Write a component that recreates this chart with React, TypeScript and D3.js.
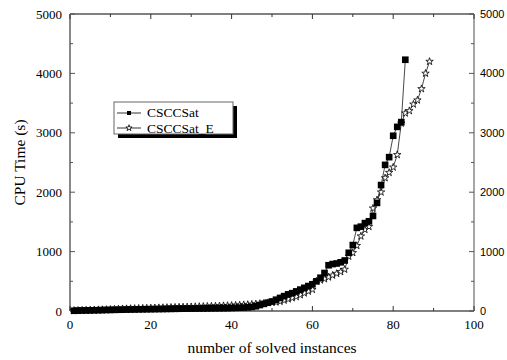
import React from "react";
import * as d3 from "d3";

const cscc: number[] = [
  4, 6, 8, 9, 10, 12, 13, 15, 17, 18,
  20, 21, 22, 24, 25, 26, 28, 29, 30, 31,
  32, 33, 34, 35, 36, 37, 38, 39, 40, 41,
  42, 43, 44, 45, 46, 47, 48, 49, 50, 52,
  54, 56, 58, 62, 68, 80, 100, 120, 140, 160,
  190, 220, 250, 280, 300, 330, 360, 390, 420, 450,
  500, 560, 640, 770, 790, 800, 820, 850, 980, 1110,
  1400, 1420, 1480, 1510, 1600, 1820, 2120, 2460, 2590, 2950,
  3100, 3180, 4230,
];

const csccE: number[] = [
  8, 10, 12, 14, 16, 18, 20, 22, 24, 26,
  30, 33, 36, 38, 40, 42, 44, 46, 48, 50,
  52, 54, 56, 58, 60, 62, 64, 66, 68, 70,
  72, 74, 76, 78, 80, 82, 85, 88, 90, 93,
  96, 100, 104, 108, 112, 118, 124, 130, 138, 145,
  150, 160, 180, 200, 220, 240, 270, 300, 330, 360,
  500, 520, 540, 570, 600, 630, 660, 700, 920, 980,
  1100, 1260, 1370, 1420, 1730, 1870, 2000, 2240, 2330, 2420,
  2630, 3160, 3330, 3370, 3480, 3550, 3740, 4000, 4200,
];

const xTicks = [0, 20, 40, 60, 80, 100];
const xMinor = [10, 30, 50, 70, 90];
const yTicks = [0, 1000, 2000, 3000, 4000, 5000];
const yMinor = [500, 1500, 2500, 3500, 4500];
const seriesNames = ["CSCCSat", "CSCCSat_E"];

const W = 507, H = 360;
const L = 70, R = 474, T = 14, B = 311;

export default function App() {
  const x = d3.scaleLinear().domain([0, 100]).range([L, R]);
  const y = d3.scaleLinear().domain([0, 5000]).range([B, T]);
  const line = d3.line<number>().x((_, i) => x(i + 1)).y((d) => y(d));
  const sq = d3.symbol().type(d3.symbolSquare).size(44)()!;
  const star = d3.symbol().type(d3.symbolStar).size(17)()!;
  const sqS = d3.symbol().type(d3.symbolSquare).size(16)()!;
  const starS = d3.symbol().type(d3.symbolStar).size(12)()!;
  const serif = "'Liberation Serif', 'Times New Roman', serif";
  const sans = "'Liberation Sans', Arial, sans-serif";
  return (
    <svg width={W} height={H} style={{ position: "absolute", left: 0, top: 0, background: "#fff" }}>
      {/* frame */}
      <line x1={L} x2={R} y1={T} y2={T} stroke="#000" strokeWidth={1} />
      <line x1={L} x2={R} y1={B} y2={B} stroke="#000" strokeWidth={1.2} />
      <line x1={L} x2={L} y1={T} y2={B} stroke="#888" strokeWidth={2} />
      <line x1={R} x2={R} y1={T} y2={B} stroke="#888" strokeWidth={1.5} />
      {/* x ticks */}
      {xTicks.map((t) => (
        <g key={"xt" + t}>
          <line x1={x(t)} x2={x(t)} y1={B} y2={B - 5} stroke="#333" />
          <line x1={x(t)} x2={x(t)} y1={T} y2={T + 5} stroke="#333" />
          <text x={x(t)} y={329} textAnchor="middle" fontFamily={serif} fontSize={13} fill="#000">{t}</text>
        </g>
      ))}
      {xMinor.map((t) => (
        <g key={"xm" + t}>
          <line x1={x(t)} x2={x(t)} y1={B} y2={B - 3} stroke="#333" />
          <line x1={x(t)} x2={x(t)} y1={T} y2={T + 3} stroke="#333" />
        </g>
      ))}
      {/* y ticks */}
      {yTicks.map((t) => (
        <g key={"yt" + t}>
          <line x1={L} x2={L + 5} y1={y(t)} y2={y(t)} stroke="#555" />
          <line x1={R} x2={R - 5} y1={y(t)} y2={y(t)} stroke="#555" />
          <text x={62} y={y(t) + 4.5} textAnchor="end" fontFamily={serif} fontSize={13} fill="#000">{t}</text>
          <text x={480} y={y(t) + 4} textAnchor="start" fontFamily={sans} fontSize={11} fill="#000">{t}</text>
        </g>
      ))}
      {yMinor.map((t) => (
        <g key={"ym" + t}>
          <line x1={L} x2={L + 3} y1={y(t)} y2={y(t)} stroke="#555" />
          <line x1={R} x2={R - 3} y1={y(t)} y2={y(t)} stroke="#555" />
        </g>
      ))}
      {/* axis titles */}
      <text x={(L + R) / 2} y={353} textAnchor="middle" fontFamily={serif} fontSize={15.5} fill="#000">number of solved instances</text>
      <text transform={`translate(25,${(T + B) / 2}) rotate(-90)`} textAnchor="middle" fontFamily={serif} fontSize={15.5} fill="#000">CPU Time (s)</text>
      {/* series lines */}
      <path d={line(csccE) || ""} fill="none" stroke="#333" strokeWidth={0.9} />
      <path d={line(cscc) || ""} fill="none" stroke="#333" strokeWidth={0.9} />
      {csccE.map((v, i) => (
        <path key={"s" + i} d={star} transform={`translate(${x(i + 1)},${y(v)})`} fill="#fff" stroke="#000" strokeWidth={0.8} />
      ))}
      {cscc.map((v, i) => (
        <path key={"q" + i} d={sq} transform={`translate(${x(i + 1)},${y(v)})`} fill="#000" />
      ))}
      {/* legend */}
      <rect x={118} y={106} width={119} height={32} fill="#000" />
      <rect x={114} y={102} width={119} height={32} fill="#fff" stroke="#666" strokeWidth={1} />
      <line x1={117} x2={141} y1={113} y2={113} stroke="#000" strokeWidth={0.8} />
      <path d={sqS} transform="translate(129,113)" fill="#000" />
      <text x={147} y={117} fontFamily={serif} fontSize={13.5} fill="#000">{seriesNames[0]}</text>
      <line x1={117} x2={141} y1={128} y2={128} stroke="#000" strokeWidth={0.8} />
      <path d={starS} transform="translate(129,128)" fill="#fff" stroke="#000" strokeWidth={0.8} />
      <text x={147} y={132.5} fontFamily={serif} fontSize={13.5} fill="#000">{seriesNames[1]}</text>
    </svg>
  );
}
